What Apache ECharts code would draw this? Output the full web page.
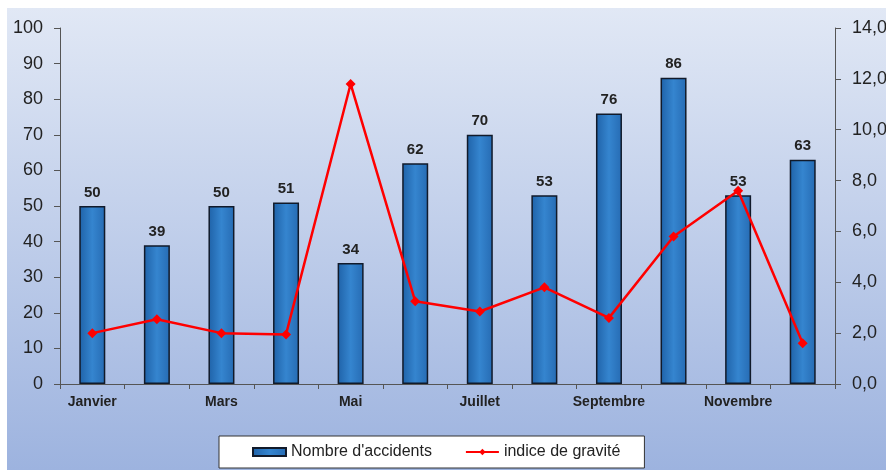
<!DOCTYPE html>
<html><head><meta charset="utf-8">
<script src="https://cdn.jsdelivr.net/npm/echarts@6/dist/echarts.min.js"></script>
<style>html,body{margin:0;padding:0;background:#fff}#c{width:886px;height:470px}</style>
</head><body><div id="c"></div>
<script>
const categories = ['Janvier','Février','Mars','Avril','Mai','Juin','Juillet','Août','Septembre','Octobre','Novembre','Décembre'];
const accidents = [50,39,50,51,34,62,70,53,76,86,53,63];
const gravite = [2.0,2.55,2.0,1.95,11.8,3.25,2.85,3.8,2.6,5.8,7.6,1.6];
const leftTicks = [0,100,10];
const rightTicks = [0,14,2];

const chart = echarts.init(document.getElementById('c'));
chart.setOption({
  animation:false,
  graphic:[{type:'rect',z:-10,shape:{x:7,y:8,width:879,height:462},
    style:{fill:new echarts.graphic.LinearGradient(0,0,0,1,[{offset:0,color:'#e1e8f5'},{offset:1,color:'#9db3df'}])}}],
  grid:{left:60,right:51,top:28,bottom:86,containLabel:false,outerBoundsMode:'none'},
  legend:{bottom:2,left:219,itemGap:33,backgroundColor:'#fff',borderColor:'#333',borderWidth:1,
    padding:[8,24,8,33],itemWidth:33,itemHeight:8,
    textStyle:{fontFamily:'Liberation Sans, Arial',fontSize:16,color:'#222'},
    data:[{name:"Nombre d'accidents",icon:'rect'},{name:'indice de gravité'}]},
  xAxis:{type:'category',data:categories,boundaryGap:true,
    axisLine:{lineStyle:{color:'#555',width:1}},
    axisTick:{show:true,interval:0,length:5,lineStyle:{color:'#555'}},
    axisLabel:{interval:1,fontFamily:'Liberation Sans, Arial',fontWeight:'bold',fontSize:14,color:'#222',margin:11}},
  yAxis:[
    {type:'value',min:leftTicks[0],max:leftTicks[1],interval:leftTicks[2],
     axisLine:{show:true,lineStyle:{color:'#555'}},axisTick:{show:true,length:6,lineStyle:{color:'#555'}},
     splitLine:{show:false},
     axisLabel:{fontFamily:'Liberation Sans, Arial',fontSize:18,color:'#222',margin:17}},
    {type:'value',min:rightTicks[0],max:rightTicks[1],interval:rightTicks[2],position:'right',
     axisLine:{show:true,lineStyle:{color:'#555'}},axisTick:{show:true,length:6,lineStyle:{color:'#555'}},
     splitLine:{show:false},
     axisLabel:{fontFamily:'Liberation Sans, Arial',fontSize:18,color:'#222',margin:17,
       formatter:v=>v.toFixed(1).replace('.',',')}}
  ],
  series:[
    {name:"Nombre d'accidents",type:'bar',data:accidents,barWidth:26,yAxisIndex:0,
     itemStyle:{color:new echarts.graphic.LinearGradient(0,0,1,0,[{offset:0,color:'#1f62a8'},{offset:0.5,color:'#3585cf'},{offset:1,color:'#266bb3'}]),
       borderColor:'#111a2a',borderWidth:1.5},
     label:{show:true,position:'top',distance:6,fontFamily:'Liberation Sans, Arial',fontWeight:'bold',fontSize:15,color:'#222'}},
    {name:'indice de gravité',type:'line',data:gravite,yAxisIndex:1,symbol:'diamond',symbolSize:10,
     lineStyle:{color:'#ff0000',width:2.5},itemStyle:{color:'#ff0000'},z:5}
  ]
});
</script></body></html>
